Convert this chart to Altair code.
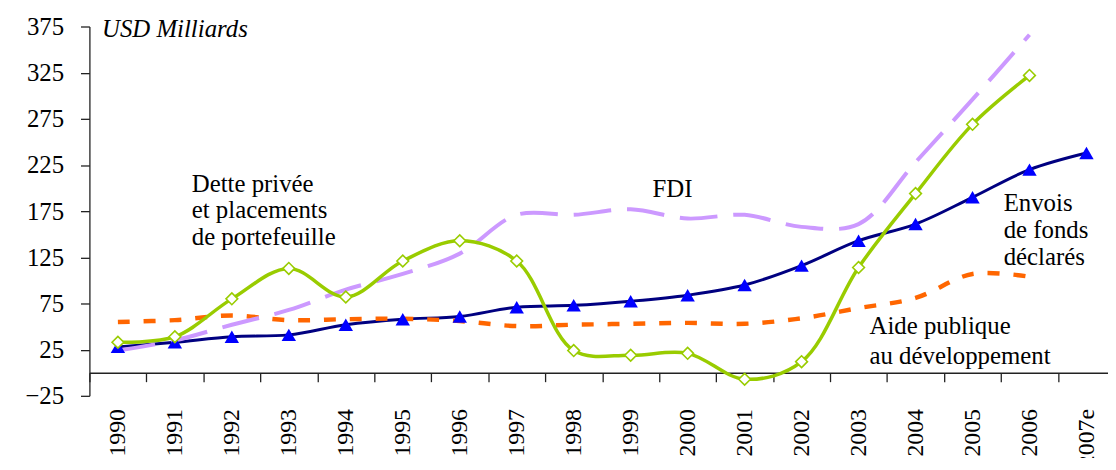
import altair as alt
import pandas as pd

# ---- data ----
years = ["1990", "1991", "1992", "1993", "1994", "1995", "1996", "1997", "1998",
         "1999", "2000", "2001", "2002", "2003", "2004", "2005", "2006", "2007e"]
remit = [28, 33, 39, 41, 52, 58, 61, 71, 73, 77.5, 84, 95, 116, 143, 161, 190, 220, 238]
debt = [33, 39, 80, 113, 82, 121, 143, 121, 24, 19, 21, -7, 12, 114, 194, 269, 322, None]
fdi = [24, 35, 52, 68, 90, 107, 129, 171, 171, 177, 167, 171, 158, 161, 228, 296, 366, None]
aid = [55, 57, 62, 57, 58, 58.5, 56, 50.5, 52, 53, 54, 53, 59, 70, 81, 107, 104, None]

y_ticks = [-25, 25, 75, 125, 175, 225, 275, 325, 375]

unit_label = ["USD Milliards"]
unit_year = ["1990"]
unit_value = [364]

debt_label = ["Dette privée", "et placements", "de portefeuille"]
debt_year = ["1991", "1991", "1991"]
debt_value = [195.4, 167.5, 138.4]

fdi_label = ["FDI"]
fdi_year = ["1999"]
fdi_value = [190.5]

remit_label = ["Envois", "de fonds", "déclarés"]
remit_year = ["2006", "2006", "2006"]
remit_value = [175, 146, 117]

aid_label = ["Aide publique", "au développement"]
aid_year = ["2003", "2003"]
aid_value = [41.7, 9.4]

# ---- tables ----
rows = []
for name, vals in [("remit", remit), ("debt", debt), ("fdi", fdi), ("aid", aid)]:
    for yr, v in zip(years, vals):
        if v is not None:
            rows.append({"series": name, "year": yr, "value": v})
df = pd.DataFrame(rows)

FONT = "'Liberation Serif', 'Times New Roman', Tinos, 'DejaVu Serif', serif"

x_enc = alt.X(
    "year:N",
    sort=years,
    bandPosition=0.5,
    scale=alt.Scale(type="band", domain=years, paddingInner=0, paddingOuter=0,
                    range=[0, 1033]),
    axis=alt.Axis(
        title=None, labelAngle=-90, labelAlign="right", labelBaseline="middle",
        labelFont=FONT, labelFontSize=24, labelColor="black",
        tickBand="extent", offset=-23.25, labelPadding=27, tickSize=9,
        tickColor="#222222", domainColor="#222222", tickWidth=1.3, domainWidth=1.3,
    ),
)
y_enc = alt.Y(
    "value:Q",
    scale=alt.Scale(domain=[-25, 375], nice=False, zero=False),
    axis=alt.Axis(
        title=None, values=y_ticks, grid=False,
        labelFont=FONT, labelFontSize=25, labelColor="black",
        tickSize=9, labelPadding=17, tickColor="#222222", domainColor="#222222",
        tickWidth=1.3, domainWidth=1.3,
    ),
)

base = alt.Chart(df).encode(x=x_enc, y=y_enc)


def series(name):
    return base.transform_filter(alt.datum.series == name)


remit_line = series("remit").mark_line(color="#000080", strokeWidth=3, interpolate="catmull-rom")
remit_pts = series("remit").mark_point(shape="triangle-up", filled=True, color="#0000FF",
                                       size=210, opacity=1)
aid_line = series("aid").mark_line(color="#FF6600", strokeWidth=4.5, strokeDash=[12, 14],
                                   interpolate="catmull-rom")
fdi_line = series("fdi").mark_line(color="#CC99FF", strokeWidth=4, strokeDash=[38, 16],
                                   interpolate="catmull-rom")
debt_line = series("debt").mark_line(color="#99CC00", strokeWidth=3.5, interpolate="catmull-rom")
debt_pts = series("debt").mark_point(shape="diamond", filled=True, fill="white",
                                     stroke="#99CC00", strokeWidth=1.6, size=140, opacity=1)


def labels(texts, yrs, vals, dx, italic=False):
    d = pd.DataFrame({"label": texts, "year": yrs, "value": vals})
    kw = dict(align="left", baseline="alphabetic", dx=dx, font=FONT, fontSize=25, color="black")
    if italic:
        kw["fontStyle"] = "italic"
    return alt.Chart(d).mark_text(**kw).encode(x=x_enc, y=y_enc, text="label:N")


text_layers = [
    labels(unit_label, unit_year, unit_value, -16, italic=True),
    labels(debt_label, debt_year, debt_value, 17),
    labels(fdi_label, fdi_year, fdi_value, 22),
    labels(remit_label, remit_year, remit_value, -26),
    labels(aid_label, aid_year, aid_value, 11),
]

chart = alt.layer(
    remit_line, aid_line, fdi_line, remit_pts, debt_line, debt_pts, *text_layers
).properties(
    width=1024,
    height=372,
    autosize=alt.AutoSizeParams(type="none"),
    padding={"left": 82, "top": 17, "right": 2, "bottom": 61},
    background="white",
).configure_view(stroke=None)

chart.save("out.html", embed_options={"renderer": "svg", "actions": False})
